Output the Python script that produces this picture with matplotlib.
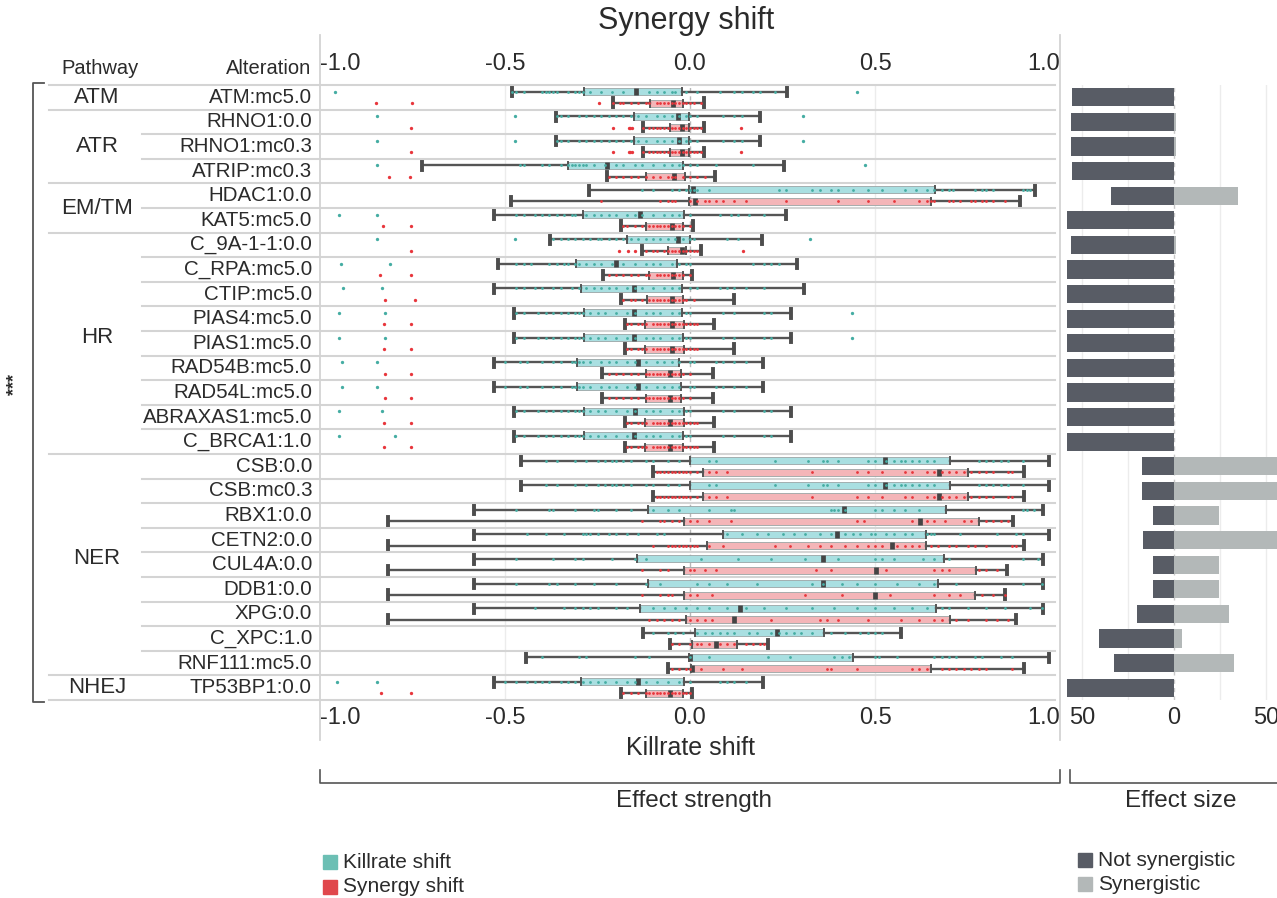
import matplotlib
matplotlib.use("Agg")
import matplotlib.pyplot as plt
from matplotlib.lines import Line2D
from matplotlib.patches import Rectangle
from matplotlib import transforms

# ---------------- data ----------------
pathways = ["ATM", "ATR", "EM/TM", "HR", "NER", "NHEJ"]
pathway_sizes = [1, 3, 2, 9, 9, 1]
alterations = ["ATM:mc5.0", "RHNO1:0.0", "RHNO1:mc0.3", "ATRIP:mc0.3", "HDAC1:0.0",
               "KAT5:mc5.0", "C_9A-1-1:0.0", "C_RPA:mc5.0", "CTIP:mc5.0", "PIAS4:mc5.0",
               "PIAS1:mc5.0", "RAD54B:mc5.0", "RAD54L:mc5.0", "ABRAXAS1:mc5.0", "C_BRCA1:1.0",
               "CSB:0.0", "CSB:mc0.3", "RBX1:0.0", "CETN2:0.0", "CUL4A:0.0", "DDB1:0.0",
               "XPG:0.0", "C_XPC:1.0", "RNF111:mc5.0", "TP53BP1:0.0"]

# Killrate shift box statistics
kill_lo = [-0.48, -0.363, -0.363, -0.725, -0.272, -0.53, -0.379, -0.52, -0.53, -0.475, -0.475, -0.53, -0.53,
           -0.475, -0.475, -0.457, -0.457, -0.585, -0.585, -0.585, -0.585, -0.585, -0.127, -0.443, -0.53]
kill_q1 = [-0.286, -0.151, -0.151, -0.331, -0.004, -0.289, -0.169, -0.309, -0.295, -0.286, -0.286, -0.306, -0.306,
           -0.286, -0.286, 0.0, 0.0, -0.113, 0.09, -0.144, -0.113, -0.134, 0.013, -0.003, -0.295]
kill_med = [-0.146, -0.033, -0.031, -0.223, 0.009, -0.136, -0.032, -0.2, -0.151, -0.151, -0.151, -0.141, -0.141,
            -0.15, -0.151, 0.526, 0.526, 0.416, 0.398, 0.359, 0.359, 0.135, 0.235, 0.0, -0.141]
kill_q3 = [-0.022, -0.003, -0.003, -0.018, 0.661, -0.015, -0.001, -0.035, -0.022, -0.022, -0.018, -0.031, -0.024,
           -0.015, -0.019, 0.702, 0.702, 0.692, 0.638, 0.687, 0.67, 0.664, 0.361, 0.44, -0.015]
kill_hi = [0.263, 0.19, 0.19, 0.253, 0.933, 0.259, 0.195, 0.288, 0.308, 0.272, 0.272, 0.196, 0.196,
           0.272, 0.272, 0.969, 0.969, 0.955, 0.969, 0.955, 0.955, 0.955, 0.571, 0.969, 0.198]
kill_fliers = [[-0.96, 0.452], [-0.846, -0.472, 0.306], [-0.846, -0.472, 0.306], [-0.846, 0.472], [],
               [-0.95, -0.846], [-0.846, -0.472, 0.325], [-0.944, -0.811], [-0.938, -0.833],
               [-0.95, -0.823, 0.439], [-0.95, -0.823, 0.439], [-0.941, -0.847], [-0.941, -0.847],
               [-0.95, -0.833], [-0.95, -0.797], [], [], [], [], [], [], [], [], [], [-0.954, -0.846]]

# Synergy shift box statistics
syn_lo = [-0.207, -0.127, -0.127, -0.223, -0.484, -0.186, -0.13, -0.234, -0.186, -0.177, -0.177, -0.239, -0.239,
          -0.177, -0.177, -0.1, -0.1, -0.815, -0.815, -0.815, -0.815, -0.815, -0.055, -0.059, -0.186]
syn_q1 = [-0.108, -0.054, -0.054, -0.119, -0.003, -0.119, -0.059, -0.11, -0.117, -0.122, -0.122, -0.119, -0.119,
          -0.122, -0.122, 0.036, 0.036, -0.015, 0.047, -0.015, -0.015, -0.01, 0.005, 0.003, -0.119]
syn_med = [-0.045, -0.022, -0.022, -0.042, 0.013, -0.05, -0.022, -0.047, -0.05, -0.05, -0.05, -0.054, -0.054,
           -0.053, -0.054, 0.673, 0.673, 0.621, 0.546, 0.503, 0.5, 0.119, 0.071, 0.005, -0.054]
syn_q3 = [-0.019, -0.003, -0.003, -0.014, 0.65, -0.019, -0.01, -0.019, -0.018, -0.015, -0.015, -0.023, -0.023,
          -0.015, -0.019, 0.751, 0.751, 0.78, 0.637, 0.774, 0.769, 0.702, 0.127, 0.65, -0.019]
syn_hi = [0.037, 0.037, 0.037, 0.068, 0.891, 0.009, 0.03, 0.005, 0.119, 0.065, 0.119, 0.062, 0.062,
          0.065, 0.065, 0.902, 0.902, 0.872, 0.902, 0.858, 0.852, 0.881, 0.212, 0.902, 0.006]
syn_fliers = [[-0.849, -0.752, -0.246], [-0.754, -0.207, -0.166, -0.161, -0.156, 0.139],
              [-0.754, -0.207, -0.166, -0.161, -0.156, 0.139], [-0.814, -0.757], [], [-0.83, -0.755],
              [-0.755, -0.193, -0.168, -0.148, 0.144], [-0.837, -0.755], [-0.823, -0.743], [-0.828, -0.755],
              [-0.828, -0.755], [-0.825, -0.755], [-0.825, -0.755], [-0.828, -0.755], [-0.828, -0.755],
              [], [], [], [], [], [], [], [], [], [-0.834, -0.755]]

# individual observations (strip points)
kill_points = [
    [-0.48, -0.47, -0.45, -0.40, -0.39, -0.38, -0.37, -0.36, -0.33, -0.31, -0.30, -0.29, -0.27, -0.24, -0.21, -0.18, -0.11, -0.09, -0.07, -0.05, -0.04, -0.01, 0.02, 0.08, 0.12, 0.14, 0.17, 0.19, 0.23],
    [-0.36, -0.35, -0.33, -0.30, -0.28, -0.26, -0.24, -0.22, -0.20, -0.18, -0.16, -0.14, -0.12, -0.09, -0.07, -0.05, -0.03, -0.01, 0.0, 0.02, 0.09, 0.12, 0.14],
    [-0.36, -0.35, -0.33, -0.30, -0.28, -0.26, -0.24, -0.22, -0.20, -0.18, -0.16, -0.14, -0.12, -0.09, -0.07, -0.05, -0.03, -0.01, 0.0, 0.02, 0.09, 0.12, 0.14],
    [-0.46, -0.45, -0.40, -0.38, -0.35, -0.33, -0.32, -0.31, -0.30, -0.29, -0.28, -0.26, -0.23, -0.20, -0.18, -0.15, -0.13, -0.10, -0.07, -0.05, -0.03, -0.02, 0.0, 0.02, 0.07, 0.17],
    [-0.13, -0.10, -0.05, -0.03, -0.01, 0.0, 0.01, 0.02, 0.05, 0.24, 0.26, 0.33, 0.35, 0.38, 0.40, 0.44, 0.48, 0.52, 0.58, 0.61, 0.64, 0.66, 0.68, 0.70, 0.71, 0.77, 0.79, 0.80, 0.82, 0.90, 0.91, 0.92],
    [-0.47, -0.45, -0.42, -0.40, -0.38, -0.36, -0.34, -0.32, -0.31, -0.28, -0.26, -0.24, -0.22, -0.20, -0.17, -0.15, -0.13, -0.10, -0.07, -0.05, -0.03, 0.0, 0.08, 0.11, 0.13, 0.16, 0.20],
    [-0.37, -0.35, -0.33, -0.31, -0.29, -0.27, -0.25, -0.24, -0.22, -0.20, -0.18, -0.16, -0.14, -0.12, -0.10, -0.08, -0.06, -0.04, -0.02, 0.0, 0.01, 0.10, 0.13],
    [-0.47, -0.45, -0.43, -0.38, -0.36, -0.34, -0.33, -0.31, -0.30, -0.28, -0.26, -0.24, -0.21, -0.18, -0.15, -0.12, -0.10, -0.08, -0.05, -0.03, -0.01, 0.0, 0.17, 0.20, 0.22, 0.24],
    [-0.47, -0.45, -0.42, -0.40, -0.37, -0.35, -0.32, -0.30, -0.28, -0.26, -0.24, -0.22, -0.20, -0.17, -0.15, -0.13, -0.10, -0.07, -0.05, -0.03, 0.0, 0.02, 0.08, 0.10, 0.12, 0.15, 0.20],
    [-0.47, -0.45, -0.41, -0.39, -0.37, -0.35, -0.33, -0.31, -0.30, -0.29, -0.27, -0.25, -0.23, -0.20, -0.17, -0.15, -0.12, -0.10, -0.08, -0.05, -0.03, -0.01, 0.0, 0.09, 0.12, 0.20, 0.22],
    [-0.47, -0.45, -0.41, -0.39, -0.37, -0.35, -0.33, -0.31, -0.30, -0.29, -0.27, -0.25, -0.23, -0.20, -0.17, -0.15, -0.12, -0.10, -0.08, -0.05, -0.03, -0.01, 0.0, 0.09, 0.12, 0.20, 0.22],
    [-0.50, -0.46, -0.44, -0.40, -0.37, -0.35, -0.32, -0.31, -0.30, -0.29, -0.27, -0.24, -0.22, -0.20, -0.17, -0.15, -0.12, -0.09, -0.07, -0.05, -0.03, 0.0, 0.01, 0.07, 0.09, 0.12, 0.15],
    [-0.50, -0.46, -0.44, -0.40, -0.37, -0.35, -0.32, -0.31, -0.30, -0.29, -0.27, -0.24, -0.22, -0.20, -0.17, -0.15, -0.12, -0.09, -0.07, -0.05, -0.03, 0.0, 0.01, 0.07, 0.09, 0.12, 0.15],
    [-0.47, -0.45, -0.41, -0.39, -0.37, -0.35, -0.33, -0.31, -0.30, -0.29, -0.27, -0.25, -0.23, -0.20, -0.17, -0.15, -0.12, -0.10, -0.08, -0.05, -0.03, -0.01, 0.0, 0.09, 0.12, 0.20, 0.22],
    [-0.47, -0.45, -0.41, -0.39, -0.37, -0.35, -0.33, -0.31, -0.30, -0.29, -0.27, -0.25, -0.23, -0.20, -0.17, -0.15, -0.12, -0.10, -0.08, -0.05, -0.03, -0.01, 0.0, 0.09, 0.12, 0.20, 0.22],
    [-0.39, -0.36, -0.31, -0.28, -0.25, -0.23, -0.21, -0.20, -0.18, -0.16, -0.12, -0.10, -0.06, -0.03, 0.05, 0.07, 0.23, 0.32, 0.36, 0.37, 0.40, 0.48, 0.50, 0.53, 0.55, 0.57, 0.58, 0.60, 0.62, 0.64, 0.66, 0.78, 0.80, 0.82, 0.84, 0.86, 0.90],
    [-0.39, -0.36, -0.31, -0.28, -0.25, -0.23, -0.21, -0.20, -0.18, -0.16, -0.12, -0.10, -0.06, -0.03, 0.05, 0.07, 0.23, 0.32, 0.36, 0.37, 0.40, 0.48, 0.50, 0.53, 0.55, 0.57, 0.58, 0.60, 0.62, 0.64, 0.66, 0.78, 0.80, 0.82, 0.84, 0.86, 0.90],
    [-0.47, -0.38, -0.37, -0.31, -0.26, -0.25, -0.20, -0.16, -0.10, -0.06, -0.03, 0.05, 0.11, 0.12, 0.38, 0.39, 0.40, 0.42, 0.50, 0.52, 0.55, 0.58, 0.62, 0.90, 0.91, 0.93],
    [-0.44, -0.39, -0.34, -0.29, -0.28, -0.27, -0.25, -0.22, -0.20, -0.17, -0.14, -0.09, -0.07, 0.10, 0.14, 0.18, 0.21, 0.25, 0.28, 0.31, 0.35, 0.38, 0.42, 0.44, 0.46, 0.49, 0.50, 0.53, 0.55, 0.58, 0.60, 0.64, 0.65, 0.66, 0.73, 0.83, 0.88, 0.90],
    [-0.47, -0.37, -0.31, -0.29, -0.21, -0.15, -0.12, 0.03, 0.13, 0.22, 0.31, 0.40, 0.50, 0.52, 0.55, 0.63, 0.66, 0.70, 0.90, 0.94],
    [-0.47, -0.38, -0.36, -0.31, -0.26, -0.20, -0.12, -0.08, 0.02, 0.05, 0.10, 0.18, 0.33, 0.36, 0.41, 0.45, 0.50, 0.56, 0.62, 0.66, 0.72, 0.90, 0.95],
    [-0.42, -0.34, -0.31, -0.29, -0.27, -0.25, -0.20, -0.17, -0.10, -0.07, -0.04, -0.01, 0.02, 0.05, 0.10, 0.15, 0.20, 0.26, 0.33, 0.39, 0.45, 0.50, 0.55, 0.60, 0.64, 0.68, 0.70, 0.75, 0.80, 0.85, 0.92, 0.95],
    [-0.10, -0.06, -0.04, -0.02, 0.02, 0.04, 0.06, 0.08, 0.10, 0.12, 0.16, 0.18, 0.22, 0.24, 0.26, 0.28, 0.30, 0.33, 0.38, 0.42, 0.46, 0.48, 0.50, 0.52],
    [-0.40, -0.30, -0.28, -0.15, -0.11, 0.0, 0.05, 0.21, 0.27, 0.39, 0.41, 0.43, 0.50, 0.51, 0.56, 0.66, 0.68, 0.70, 0.72, 0.77, 0.79, 0.84, 0.87],
    [-0.50, -0.47, -0.44, -0.42, -0.40, -0.38, -0.35, -0.33, -0.31, -0.29, -0.27, -0.25, -0.23, -0.20, -0.17, -0.15, -0.12, -0.09, -0.06, -0.03, 0.0, 0.08, 0.10, 0.12, 0.15],
]
syn_points = [
    [-0.207, -0.19, -0.18, -0.16, -0.14, -0.12, -0.11, -0.09, -0.08, -0.07, -0.06, -0.05, -0.04, -0.03, -0.02, -0.01, 0.0, 0.01, 0.03],
    [-0.127, -0.11, -0.10, -0.09, -0.08, -0.07, -0.06, -0.05, -0.04, -0.03, -0.02, -0.01, 0.0, 0.01, 0.02, 0.03],
    [-0.127, -0.11, -0.10, -0.09, -0.08, -0.07, -0.06, -0.05, -0.04, -0.03, -0.02, -0.01, 0.0, 0.01, 0.02, 0.03],
    [-0.22, -0.20, -0.18, -0.16, -0.14, -0.12, -0.10, -0.08, -0.06, -0.05, -0.04, -0.02, 0.0, 0.02, 0.04],
    [-0.24, -0.08, -0.06, -0.05, -0.04, 0.0, 0.02, 0.04, 0.05, 0.07, 0.09, 0.12, 0.15, 0.26, 0.40, 0.48, 0.55, 0.62, 0.64, 0.65, 0.66, 0.70, 0.71, 0.73, 0.76, 0.77, 0.79, 0.80, 0.82, 0.85],
    [-0.18, -0.17, -0.15, -0.13, -0.11, -0.10, -0.09, -0.08, -0.07, -0.06, -0.05, -0.04, -0.03, -0.02, 0.0],
    [-0.12, -0.10, -0.09, -0.07, -0.06, -0.05, -0.04, -0.03, -0.02, -0.01, 0.0, 0.01, 0.02],
    [-0.22, -0.20, -0.18, -0.16, -0.14, -0.12, -0.11, -0.09, -0.08, -0.07, -0.06, -0.05, -0.04, -0.03, -0.02, 0.0],
    [-0.18, -0.16, -0.15, -0.13, -0.11, -0.10, -0.09, -0.08, -0.07, -0.06, -0.05, -0.04, -0.03, -0.02, -0.01, 0.01],
    [-0.17, -0.16, -0.14, -0.13, -0.12, -0.10, -0.09, -0.08, -0.07, -0.06, -0.05, -0.04, -0.03, -0.02, -0.01, 0.0, 0.01, 0.02],
    [-0.17, -0.16, -0.14, -0.13, -0.12, -0.10, -0.09, -0.08, -0.07, -0.06, -0.05, -0.04, -0.03, -0.02, -0.01, 0.0, 0.01, 0.02],
    [-0.22, -0.20, -0.18, -0.16, -0.14, -0.12, -0.11, -0.10, -0.09, -0.08, -0.07, -0.06, -0.05, -0.04, -0.03, -0.02, 0.0],
    [-0.22, -0.20, -0.18, -0.16, -0.14, -0.12, -0.11, -0.10, -0.09, -0.08, -0.07, -0.06, -0.05, -0.04, -0.03, -0.02, 0.0],
    [-0.17, -0.16, -0.14, -0.13, -0.12, -0.10, -0.09, -0.08, -0.07, -0.06, -0.05, -0.04, -0.03, -0.02, -0.01, 0.0, 0.01, 0.02],
    [-0.17, -0.16, -0.14, -0.13, -0.12, -0.10, -0.09, -0.08, -0.07, -0.06, -0.05, -0.04, -0.03, -0.02, -0.01, 0.0, 0.01, 0.02],
    [-0.09, -0.08, -0.07, -0.06, -0.05, -0.04, -0.03, -0.02, -0.01, 0.0, 0.02, 0.05, 0.07, 0.10, 0.33, 0.45, 0.48, 0.52, 0.58, 0.60, 0.64, 0.66, 0.68, 0.70, 0.72, 0.74, 0.76, 0.78, 0.80, 0.82, 0.86, 0.87],
    [-0.09, -0.08, -0.07, -0.06, -0.05, -0.04, -0.03, -0.02, -0.01, 0.0, 0.02, 0.05, 0.07, 0.10, 0.33, 0.45, 0.48, 0.52, 0.58, 0.60, 0.64, 0.66, 0.68, 0.70, 0.72, 0.74, 0.76, 0.78, 0.80, 0.82, 0.86, 0.87],
    [-0.13, -0.08, -0.07, -0.05, -0.03, 0.0, 0.02, 0.05, 0.11, 0.45, 0.47, 0.60, 0.64, 0.66, 0.69, 0.74, 0.76, 0.80, 0.82, 0.84, 0.86],
    [-0.10, -0.06, -0.05, -0.04, -0.03, -0.02, -0.01, 0.0, 0.01, 0.02, 0.05, 0.09, 0.23, 0.27, 0.32, 0.35, 0.38, 0.42, 0.45, 0.48, 0.50, 0.52, 0.56, 0.58, 0.60, 0.62, 0.65, 0.67, 0.70, 0.72, 0.75, 0.77, 0.80, 0.87, 0.88],
    [-0.13, -0.08, -0.06, 0.0, 0.01, 0.04, 0.07, 0.34, 0.38, 0.53, 0.66, 0.68, 0.70, 0.78, 0.80, 0.83],
    [-0.13, -0.08, -0.06, -0.05, 0.0, 0.02, 0.06, 0.31, 0.41, 0.54, 0.66, 0.70, 0.73, 0.79, 0.82, 0.85],
    [-0.11, -0.09, -0.07, -0.05, -0.03, 0.0, 0.02, 0.04, 0.06, 0.22, 0.35, 0.37, 0.40, 0.48, 0.57, 0.62, 0.66, 0.68, 0.72, 0.75, 0.80, 0.83, 0.86],
    [-0.05, -0.03, 0.0, 0.02, 0.03, 0.05, 0.08, 0.10, 0.12, 0.15, 0.17, 0.19, 0.20],
    [-0.05, -0.03, -0.01, 0.0, 0.03, 0.09, 0.14, 0.37, 0.38, 0.45, 0.60, 0.62, 0.64, 0.68, 0.70, 0.72, 0.74, 0.76, 0.78, 0.80, 0.87],
    [-0.18, -0.16, -0.14, -0.12, -0.11, -0.10, -0.09, -0.08, -0.07, -0.06, -0.05, -0.04, -0.03, -0.02, -0.01, 0.0],
]

# Effect size (counts)
not_synergistic = [55.4, 56, 56, 55.4, 34.4, 58.3, 56, 58.3, 58.3, 58.3, 58.3, 58.3, 58.3, 58.3, 58.3,
                   17.5, 17.5, 11.2, 17, 11.2, 11.2, 20.3, 40.8, 32.8, 58.3]
synergistic = [0, 1, 1, 0, 34.8, 0, 1, 0, 0, 0, 0, 0, 0, 0, 0,
               60, 60, 24.5, 60, 24.5, 24.5, 30, 4.5, 32.8, 0]

main_ticks = [-1.0, -0.5, 0.0, 0.5, 1.0]
main_ticklabels = ["-1.0", "-0.5", "0.0", "0.5", "1.0"]
size_ticks = [-50, 0, 50]
size_ticklabels = ["50", "0", "50"]

# ---------------- style ----------------
W, H = 1277, 898
TEAL_PT = "#45ada3"
TEAL_BOX = "#a9dfe1"
RED_PT = "#e8363c"
RED_BOX = "#f4b5b8"
LINE = "#d4d4d4"
TXT = "#2b2b2b"
BAR_DARK = "#585c65"
BAR_LIGHT = "#b3b8b8"

plt.rcParams["font.family"] = ["Liberation Sans", "DejaVu Sans"]

def fx(px):
    return px / W

def fy(py):
    return 1 - py / H

fig = plt.figure(figsize=(W / 100, H / 100), dpi=100)
fig.patch.set_facecolor("white")

TOP, BOT = 85, 700
ax = fig.add_axes([fx(320), fy(BOT), fx(1060) - fx(320), fy(TOP) - fy(BOT)])
n = len(alterations)
ax.set_xlim(-1.0, 1.0)
ax.set_ylim(n - 0.5, -0.5)
for s in ax.spines.values():
    s.set_visible(False)
ax.set_yticks([])

# grid
for g in [-0.5, 0.5]:
    ax.axvline(g, color="#ececec", lw=1.0, zorder=0)
ax.axvline(0, color="#b8b8b8", lw=1.0, ls=(0, (3, 3)), zorder=0)

off = 0.235
bw = 0.29

def stats_list(lo, q1, med, q3, hi, fl):
    out = []
    for i in range(n):
        out.append(dict(whislo=lo[i], q1=q1[i], med=med[i], q3=q3[i], whishi=hi[i], fliers=fl[i]))
    return out

for stats, pos_off, boxc, ptc, pts in [
    (stats_list(kill_lo, kill_q1, kill_med, kill_q3, kill_hi, kill_fliers), -off, TEAL_BOX, TEAL_PT, kill_points),
    (stats_list(syn_lo, syn_q1, syn_med, syn_q3, syn_hi, syn_fliers), off, RED_BOX, RED_PT, syn_points),
]:
    positions = [i + pos_off for i in range(n)]
    ax.bxp(stats, positions=positions, widths=bw, orientation="horizontal", patch_artist=True,
           showfliers=True, capwidths=0.38, manage_ticks=False,
           boxprops=dict(facecolor=boxc, edgecolor="#9aa5a5", lw=0.6),
           whiskerprops=dict(color="#555555", lw=1.7),
           capprops=dict(color="#4d4d4d", lw=2.8),
           medianprops=dict(color="#444444", lw=3.4),
           flierprops=dict(marker="o", markersize=2.4, markerfacecolor=ptc, markeredgecolor="none"))
    for i in range(n):
        ax.scatter(pts[i], [i + pos_off] * len(pts[i]), s=4, color=ptc, zorder=6, lw=0)
        st = stats[i]
        for q in (st["q1"], st["q3"]):
            ax.plot([q, q], [i + pos_off - bw / 2, i + pos_off + bw / 2], color="#555555", lw=1.4, zorder=5)

ax.set_xticks(main_ticks)
ax.set_xticklabels(main_ticklabels)
ax.tick_params(axis="x", length=0, pad=5, labelsize=17, labelcolor=TXT)
labs = ax.get_xticklabels()
labs[0].set_ha("left")
labs[-1].set_ha("right")

sec = ax.secondary_xaxis("top")
sec.set_xticks(main_ticks)
sec.set_xticklabels(main_ticklabels)
sec.tick_params(axis="x", length=0, pad=7, labelsize=17, labelcolor=TXT)
for s in sec.spines.values():
    s.set_visible(False)
slabs = sec.get_xticklabels()
slabs[0].set_ha("left")
slabs[-1].set_ha("right")

# ---------------- effect size panel ----------------
ax2 = fig.add_axes([fx(1061), fy(BOT), fx(1287) - fx(1061), fy(TOP) - fy(BOT)])
ax2.set_xlim(-61.4, 61.4)
ax2.set_ylim(n - 0.5, -0.5)
for s in ax2.spines.values():
    s.set_visible(False)
ax2.set_yticks([])
for g in [-50, -25, 25, 50]:
    ax2.axvline(g, color="#ececec", lw=1.0, zorder=0)
ax2.axvline(0, color="#c8c8c8", lw=1.0, ls=(0, (3, 3)), zorder=0)
rows = list(range(n))
ax2.barh(rows, [-v for v in not_synergistic], height=0.74, color=BAR_DARK, zorder=2)
ax2.barh(rows, synergistic, height=0.74, color=BAR_LIGHT, zorder=2)
ax2.set_xticks(size_ticks)
ax2.set_xticklabels(size_ticklabels)
ax2.tick_params(axis="x", length=0, pad=5, labelsize=17, labelcolor=TXT)

# ---------------- table lines and labels ----------------
blend = transforms.blended_transform_factory(fig.transFigure, ax.transData)
group_ends = []
c = 0
for sz in pathway_sizes:
    c += sz
    group_ends.append(c)
for k in range(n + 1):
    yb = k - 0.5
    start = 49 if (k == 0 or k in group_ends) else 142
    fig.add_artist(Line2D([fx(start), fx(1055)], [yb, yb], transform=blend, color=LINE, lw=1.5, zorder=1))

for i, name in enumerate(alterations):
    fig.text(fx(312), i, name, transform=blend, ha="right", va="center", fontsize=14.8, color=TXT)

start = 0
for name, sz in zip(pathways, pathway_sizes):
    yc = start + (sz - 1) / 2
    if sz > 5:
        yc -= 0.25
    fig.text(fx(97), yc, name, transform=blend, ha="center", va="center", fontsize=16, color=TXT)
    start += sz

fig.text(fx(100), fy(68), "Pathway", ha="center", va="center", fontsize=14.5, color=TXT)
fig.text(fx(311), fy(68), "Alteration", ha="right", va="center", fontsize=14.5, color=TXT)

# frame verticals
for xv in (320, 1060):
    fig.add_artist(Line2D([fx(xv), fx(xv)], [fy(35), fy(740)], color="#d3d3d3", lw=1.3))

# left bracket with significance
fig.add_artist(Line2D([fx(44), fx(33), fx(33), fx(44)], [fy(83), fy(83), fy(702), fy(702)], color="#555555", lw=1.3))
fig.text(fx(15), fy(385), "***", rotation=90, ha="center", va="center", fontsize=13, color=TXT, fontweight="bold")

# titles
fig.text(fx(686), fy(21), "Synergy shift", ha="center", va="center", fontsize=22, color=TXT)
fig.text(fx(690), fy(748), "Killrate shift", ha="center", va="center", fontsize=18, color=TXT)

# bottom brackets
fig.add_artist(Line2D([fx(320), fx(320), fx(1060), fx(1060)], [fy(770), fy(783), fy(783), fy(770)], color="#555555", lw=1.2))
fig.add_artist(Line2D([fx(1070), fx(1070), fx(1290)], [fy(770), fy(783), fy(783)], color="#555555", lw=1.2))
fig.text(fx(694), fy(801), "Effect strength", ha="center", va="center", fontsize=17.5, color=TXT)
fig.text(fx(1181), fy(801), "Effect size", ha="center", va="center", fontsize=17.5, color=TXT)

# legends
legend_left = [("Killrate shift", "#6cbfb4"), ("Synergy shift", "#e0474c")]
for j, (lab, colr) in enumerate(legend_left):
    yy = 862 + j * 25
    fig.add_artist(Rectangle((fx(323), fy(yy + 7)), fx(14), 14 / H, transform=fig.transFigure, color=colr))
    fig.text(fx(343), fy(yy), lab, ha="left", va="center", fontsize=15, color=TXT)
legend_right = [("Not synergistic", BAR_DARK), ("Synergistic", BAR_LIGHT)]
for j, (lab, colr) in enumerate(legend_right):
    yy = 860 + j * 24
    fig.add_artist(Rectangle((fx(1078), fy(yy + 7)), fx(14), 14 / H, transform=fig.transFigure, color=colr))
    fig.text(fx(1098), fy(yy), lab, ha="left", va="center", fontsize=15, color=TXT)

fig.savefig("out.png", dpi=100)
